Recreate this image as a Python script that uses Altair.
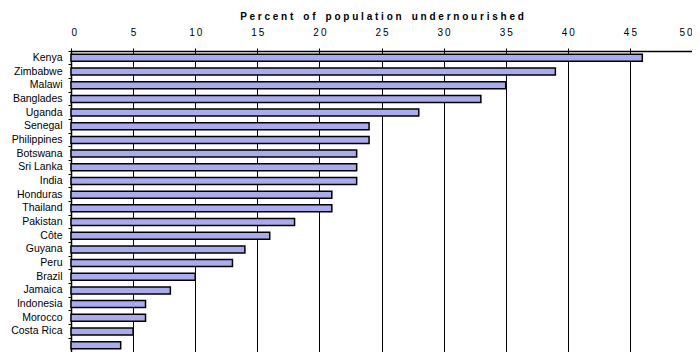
import altair as alt
import pandas as pd

countries = ["Kenya", "Zimbabwe", "Malawi", "Banglades", "Uganda", "Senegal",
             "Philippines", "Botswana", "Sri Lanka", "India", "Honduras",
             "Thailand", "Pakistan", "Côte", "Guyana", "Peru", "Brazil",
             "Jamaica", "Indonesia", "Morocco", "Costa Rica", " "]
values = [46, 39, 35, 33, 28, 24, 24, 23, 23, 23, 21, 21, 18, 16, 14, 13,
          10, 8, 6, 6, 5, 4]
x_ticks = [0, 5, 10, 15, 20, 25, 30, 35, 40, 45, 50]
title_text = "Percent of population undernourished"

df = pd.DataFrame({"country": countries, "value": values})

spaced_title = "\u2002\u2002".join(" ".join(list(w)) for w in title_text.split(" "))

bars = alt.Chart(df).mark_bar(
    color="#aaaaee", stroke="black", strokeWidth=1.5, height=7
).encode(
    x=alt.X("value:Q",
            scale=alt.Scale(domain=[0, 50], nice=False),
            axis=alt.Axis(orient="top", values=x_ticks, title=spaced_title,
                          titleFont="Liberation Sans", titleFontSize=10,
                          titleFontWeight="bold", titleColor="black",
                          titlePadding=6,
                          labelFont="Liberation Sans", labelFontSize=10,
                          labelColor="black", labelPadding=11,
                          labelExpr="join(split(datum.label, ''), '\u2009')",
                          grid=True, gridColor="black", gridWidth=1,
                          gridOpacity=1,
                          tickColor="black", tickSize=3,
                          domainColor="black", domainWidth=1.5)),
    y=alt.Y("country:N", sort=countries,
            scale=alt.Scale(paddingInner=0, paddingOuter=0),
            axis=alt.Axis(title=None, bandPosition=0,
                          labelFont="Liberation Sans", labelFontSize=10.5,
                          labelColor="black", labelPadding=6,
                          tickColor="black", tickSize=3, grid=False,
                          domainColor="black", domainWidth=1.5)),
)

chart = bars.properties(
    width=621, height=301,
    padding={"left": 63, "top": 43, "right": 0, "bottom": 0},
    autosize=alt.AutoSizeParams(type="none"),
).configure_view(
    fill="#dcdcdc", stroke="#999999", strokeWidth=1.5
).configure(background="white")

chart.save("out.html", embed_options={"renderer": "svg", "actions": False})
